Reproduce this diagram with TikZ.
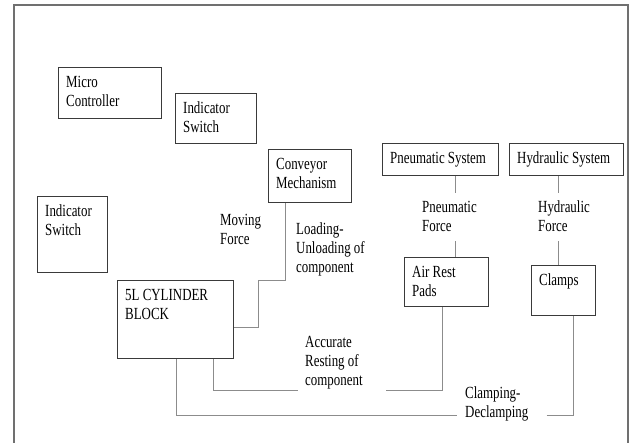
\documentclass[tikz,border=0pt]{standalone}
\usepackage{fontspec}
\setmainfont{Liberation Serif}[FakeStretch=0.76]
\usetikzlibrary{positioning}
\usepackage{xcolor}
\definecolor{edgegray}{HTML}{3A3A3A}
\definecolor{linegray}{HTML}{8C8C8C}
\definecolor{framegray}{HTML}{707070}

\begin{document}
\begin{tikzpicture}[x=1pt,y=-1pt,font=\fontsize{17}{19}\selectfont,
    box/.style={draw=edgegray,line width=1pt,anchor=north west,inner sep=0pt},
    boxtxt/.style={anchor=north west,align=left,inner xsep=8pt,inner ysep=9pt},
    lbl/.style={anchor=north west,align=left,inner sep=0pt},
    conn/.style={draw=linegray,line width=0.9pt},
    frame/.style={draw=framegray,line width=1.6pt}]
    \useasboundingbox (0,0) rectangle (634,443);
    \draw[frame] (14,450) -- (14,5) -- (628,5) -- (628,450);
    % boxes
    \node[box,minimum width=103pt,minimum height=51pt,label={[boxtxt]north west:Micro\\Controller}](mc) at (58,67){};
    \node[box,minimum width=81pt,minimum height=50pt,label={[boxtxt]north west:Indicator\\Switch}](isw) at (175,93){};
    \node[box,minimum width=83pt,minimum height=53pt,label={[boxtxt]north west:Conveyor\\Mechanism}](conv) at (268,149){};
    \node[box,minimum width=70pt,minimum height=76pt,label={[boxtxt]north west:Indicator\\Switch}](isl) at (37,196){};
    \node[box,minimum width=116pt,minimum height=78pt,label={[boxtxt]north west:5L CYLINDER\\BLOCK}](cyl) at (117,280){};
    \node[box,minimum width=116pt,minimum height=32pt,label={[boxtxt]north west:Pneumatic System}](pneu) at (382,143){};
    \node[box,minimum width=114pt,minimum height=32pt,label={[boxtxt]north west:Hydraulic System}](hyd) at (509,143){};
    \node[box,minimum width=84pt,minimum height=49pt,label={[boxtxt]north west:Air Rest\\Pads}](arp) at (404,257){};
    \node[box,minimum width=64pt,minimum height=50pt,label={[boxtxt]north west:Clamps}](clp) at (531,265){};
    % labels
    \node[lbl](mvf) at (220,214){Moving\\Force};
    \node[lbl](lun) at (296,223){Loading-\\Unloading of\\component};
    \node[lbl](pnf) at (422,201){Pneumatic\\Force};
    \node[lbl](hyf) at (538,201){Hydraulic\\Force};
    \node[lbl](acc) at (305,336){Accurate\\Resting of\\component};
    \node[lbl](cld) at (465,387){Clamping-\\Declamping};
    % gap ends
    \coordinate (pnA) at (455,193.5);
    \coordinate (pnB) at (455,241.5);
    \coordinate (hyA) at (558,193.5);
    \coordinate (hyB) at (558,241.5);
    \coordinate (accA) at (298,390.5);
    \coordinate (accB) at (386,390.5);
    \coordinate (cldA) at (457,415);
    \coordinate (cldB) at (546.5,415);
    % connectors
    \draw[conn] ([xshift=17pt]conv.south west) |- (258,280) |- ([yshift=-47pt]cyl.north east);
    \draw[conn] (pneu.south -| pnA) -- (pnA);
    \draw[conn] (pnB) -- (arp.north -| pnB);
    \draw[conn] (hyd.south -| hyA) -- (hyA);
    \draw[conn] (hyB) -- (clp.north -| hyB);
    \draw[conn] ([xshift=96pt]cyl.south west) |- (accA);
    \draw[conn] (accB) -| ([xshift=38pt]arp.south west);
    \draw[conn] ([xshift=59pt]cyl.south west) |- (cldA);
    \draw[conn] (cldB) -| ([xshift=42.5pt]clp.south west);
  \end{tikzpicture}
\end{document}
